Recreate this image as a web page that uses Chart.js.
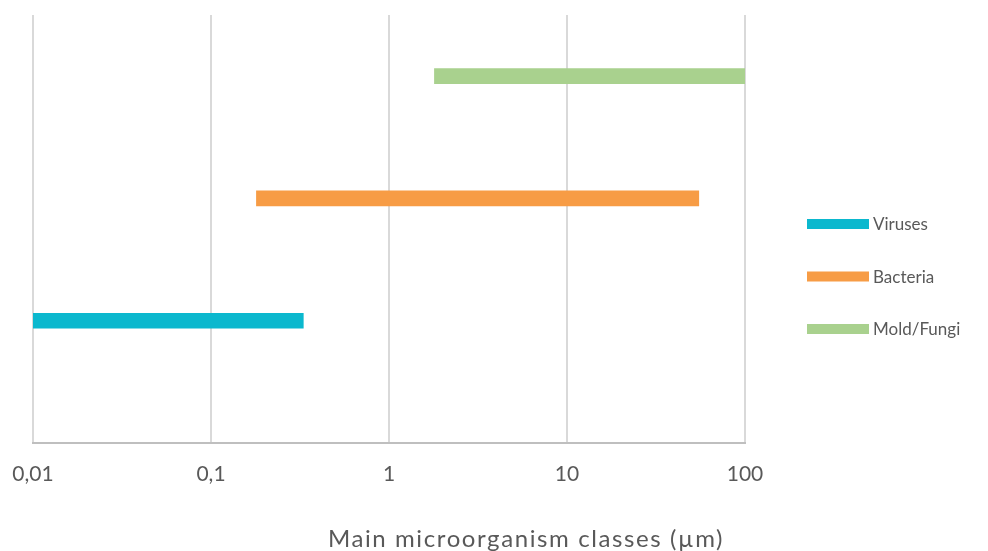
<!DOCTYPE html>
<html>
<head>
<meta charset="utf-8">
<script src="https://cdn.jsdelivr.net/npm/chart.js@4"></script>
<style>
  html, body { margin: 0; padding: 0; background: #fff; }
  #wrap { width: 988px; height: 551px; position: relative; }
</style>
</head>
<body>
<div id="wrap"><canvas id="sizeChart"></canvas></div>
<script>
// data (µm, log scale)
const classes = ['Viruses', 'Bacteria', 'Mold/Fungi'];
const rowPos = [1, 2, 3];
const lowSize = [0.01, 0.18, 1.8];
const highSize = [0.33, 55, 100];
const colors = ['#0BB8CE', '#F79C45', '#A9D18E'];
const xTicks = [0.01, 0.1, 1, 10, 100];
const axisTitle = 'Main microorganism classes (µm)';

const FONT = 'Lato, "Open Sans", sans-serif';
const GREY = '#595959';

const datasets = classes.map((name, i) => ({
    label: name,
    data: [{ y: rowPos[i], x: [lowSize[i], highSize[i]] }],
    backgroundColor: colors[i],
    borderWidth: 0,
    barThickness: 15,
    grouped: false
}));

// legend on the right + axis title under the ticks
const extras = {
    id: 'extras',
    afterDraw(chart) {
        const ctx = chart.ctx;
        ctx.save();
        ctx.font = '17px ' + FONT;
        ctx.textBaseline = 'middle';
        chart.data.datasets.forEach((ds, i) => {
            const y = 224 + i * 52.5;
            ctx.fillStyle = ds.backgroundColor;
            ctx.fillRect(807, y - 5, 62, 10);
            ctx.fillStyle = GREY;
            ctx.textAlign = 'left';
            ctx.fillText(ds.label, 873, y + 1);
        });
        ctx.font = '24px ' + FONT;
        ctx.letterSpacing = '1.6px';
        ctx.textAlign = 'center';
        ctx.fillText(axisTitle, 526, 539);
        ctx.restore();
    }
};

new Chart(document.getElementById('sizeChart'), {
    type: 'bar',
    data: { datasets },
    options: {
        indexAxis: 'y',
        responsive: true,
        maintainAspectRatio: false,
        animation: false,
        layout: { padding: { left: 33, right: 243, top: 15, bottom: 0 } },
        plugins: { legend: { display: false }, tooltip: { enabled: false } },
        scales: {
            x: {
                type: 'logarithmic',
                min: 0.01,
                max: 100,
                afterBuildTicks: axis => { axis.ticks = xTicks.map(v => ({ value: v })); },
                afterFit: scale => {
                    scale.height = 108;
                    scale.paddingLeft = 0;
                    scale.paddingRight = 0;
                },
                grid: { color: '#D9D9D9', lineWidth: 2, drawTicks: false },
                border: { color: '#BFBFBF', width: 2 },
                ticks: {
                    padding: 19,
                    color: GREY,
                    font: { family: FONT, size: 21 },
                    autoSkip: false,
                    maxRotation: 0,
                    callback: v => String(v).replace('.', ',')
                }
            },
            y: {
                type: 'linear',
                min: 0,
                max: 3.5,
                offset: false,
                display: false
            }
        }
    },
    plugins: [extras]
});
</script>
</body>
</html>
